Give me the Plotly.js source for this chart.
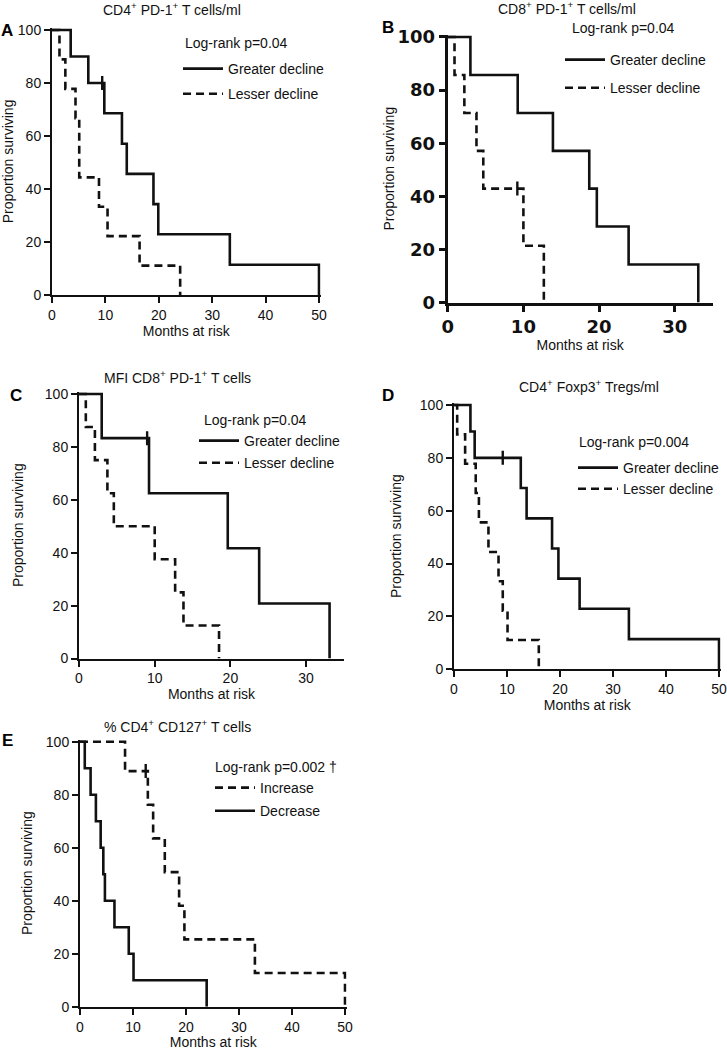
<!DOCTYPE html>
<html>
<head>
<meta charset="utf-8">
<script src="https://cdn.plot.ly/plotly-3.0.1.min.js"></script>
<style>body{margin:0;background:#fff}#chart{width:727px;height:1050px}</style>
</head>
<body>
<div id="chart"></div>
<script>
// Kaplan-Meier steps: time of each drop (months) and % surviving after it
var aGreaterT = [0, 3.5, 6.8, 9.8, 13.1, 14.0, 19.0, 19.9, 33.3, 50.0];
var aGreaterS = [100, 90, 80, 68.6, 57.1, 45.7, 34.3, 22.9, 11.4, 0];
var aLesserT = [0, 1.4, 2.5, 4.4, 5.1, 8.8, 10.4, 16.4, 24.0];
var aLesserS = [100, 88.9, 77.8, 66.7, 44.4, 33.3, 22.2, 11.1, 0];
var aCensorT = [9.4];
var aCensorS = [80];

var bGreaterT = [0, 3.0, 9.25, 13.9, 18.7, 19.7, 23.9, 33.1];
var bGreaterS = [100, 85.7, 71.4, 57.1, 42.9, 28.6, 14.3, 0];
var bLesserT = [0, 0.9, 2.2, 3.8, 4.7, 10.0, 12.7];
var bLesserS = [100, 85.7, 71.4, 57.1, 42.9, 21.4, 0];
var bCensorT = [9.2];
var bCensorS = [42.9];

var cGreaterT = [0, 3.0, 9.25, 19.65, 23.8, 33.1];
var cGreaterS = [100, 83.3, 62.5, 41.7, 20.8, 0];
var cLesserT = [0, 0.9, 2.1, 3.75, 4.6, 10.0, 12.7, 13.8, 18.5];
var cLesserS = [100, 87.5, 75, 62.5, 50, 37.5, 25, 12.5, 0];
var cCensorT = [9.0];
var cCensorS = [83.3];

var dGreaterT = [0, 3.1, 3.9, 12.6, 13.7, 18.5, 19.7, 23.7, 33.0, 50.0];
var dGreaterS = [100, 90, 80, 68.6, 57.1, 45.7, 34.3, 22.9, 11.4, 0];
var dLesserT = [0, 0.6, 2.1, 4.1, 4.7, 6.5, 8.4, 9.2, 10.1, 16.0];
var dLesserS = [100, 88.9, 77.8, 66.7, 55.6, 44.4, 33.3, 22.2, 11.1, 0];
var dCensorT = [9.2];
var dCensorS = [80];

var eIncreaseT = [0, 8.5, 12.8, 13.8, 16.0, 18.7, 19.7, 33.0, 50.0];
var eIncreaseS = [100, 88.9, 76.2, 63.5, 50.8, 38.1, 25.4, 12.7, 0];
var eDecreaseT = [0, 0.9, 2.0, 3.0, 3.9, 4.4, 4.7, 6.5, 9.2, 10.1, 23.9];
var eDecreaseS = [100, 90, 80, 70, 60, 50, 40, 30, 20, 10, 0];
var eCensorT = [12.4];
var eCensorS = [88.9];

var panelTitles = [
  'CD4<sup>+</sup> PD-1<sup>+</sup> T cells/ml',
  'CD8<sup>+</sup> PD-1<sup>+</sup> T cells/ml',
  'MFI CD8<sup>+</sup> PD-1<sup>+</sup> T cells',
  'CD4<sup>+</sup> Foxp3<sup>+</sup> Tregs/ml',
  '% CD4<sup>+</sup> CD127<sup>+</sup> T cells'
];
var pvalues = ['Log-rank p=0.04', 'Log-rank p=0.04', 'Log-rank p=0.04', 'Log-rank p=0.004', 'Log-rank p=0.002 \u2020'];
var letters = ['A', 'B', 'C', 'D', 'E'];

var W = 727, H = 1050;
var ink = '#111';
var font = 'Liberation Sans, Arial, sans-serif';

// pixel geometry of each panel: x of 0, px per month, x max, y of 0, px per %
var geo = [
  {x0: 52, ux: 5.34, xmax: 50.3, y0: 295, uy: 2.65, ystand: 6},
  {x0: 447.7, ux: 7.57, xmax: 35, y0: 302.5, uy: 2.655, ystand: 0},
  {x0: 79, ux: 7.57, xmax: 35, y0: 658.5, uy: 2.645, ystand: 18},
  {x0: 454, ux: 5.3, xmax: 50.3, y0: 669.3, uy: 2.643, ystand: 15},
  {x0: 80, ux: 5.3, xmax: 50.3, y0: 1006.7, uy: 2.65, ystand: 10}
];
var ymax = 100.8;

var titlePos = [[172, 9], [567, 8], [177, 377], [589, 386], [177, 726]];
var pPos = [[183, 43], [570, 28], [202, 420], [577, 442], [213, 767]];
var letterPos = [[7, 30], [388, 28], [16, 395], [388, 395], [7, 740]];
var legendPos = [[178, 53, 4], [560, 44, 7], [194, 425, 1], [573, 452, 0], [210, 772, 2]];

var solid = 'solid', dashed = '8px,5px';

function curve(t, s, n, name, dash) {
  return {
    x: t, y: s, type: 'scatter', mode: 'lines', name: name,
    xaxis: 'x' + (n > 1 ? n : ''), yaxis: 'y' + (n > 1 ? n : ''),
    legend: 'legend' + (n > 1 ? n : ''), legendgroup: 'g' + n + name,
    line: {shape: 'hv', color: ink, width: 2.6, dash: dash},
    hoverinfo: 'skip'
  };
}
function censor(t, s, n) {
  return {
    x: t, y: s, type: 'scatter', mode: 'markers', showlegend: false,
    xaxis: 'x' + (n > 1 ? n : ''), yaxis: 'y' + (n > 1 ? n : ''),
    marker: {symbol: 'line-ns', size: 10, line: {width: 2.4, color: ink}},
    hoverinfo: 'skip'
  };
}

var data = [
  curve(aGreaterT, aGreaterS, 1, 'Greater decline', solid),
  curve(aLesserT, aLesserS, 1, 'Lesser decline', dashed),
  censor(aCensorT, aCensorS, 1),
  curve(bGreaterT, bGreaterS, 2, 'Greater decline', solid),
  curve(bLesserT, bLesserS, 2, 'Lesser decline', dashed),
  censor(bCensorT, bCensorS, 2),
  curve(cGreaterT, cGreaterS, 3, 'Greater decline', solid),
  curve(cLesserT, cLesserS, 3, 'Lesser decline', dashed),
  censor(cCensorT, cCensorS, 3),
  curve(dGreaterT, dGreaterS, 4, 'Greater decline', solid),
  curve(dLesserT, dLesserS, 4, 'Lesser decline', dashed),
  censor(dCensorT, dCensorS, 4),
  curve(eIncreaseT, eIncreaseS, 5, 'Increase', dashed),
  curve(eDecreaseT, eDecreaseS, 5, 'Decrease', solid),
  censor(eCensorT, eCensorS, 5)
];

var layout = {
  width: W, height: H, autosize: false,
  margin: {l: 0, r: 0, t: 0, b: 0, pad: 0},
  paper_bgcolor: '#fff', plot_bgcolor: '#fff',
  font: {family: font, size: 14, color: ink},
  annotations: []
};

geo.forEach(function (g, i) {
  var n = i + 1, k = n > 1 ? n : '';
  var bold = n === 2;
  var lw = bold ? 3 : 2;
  var tf = bold ? {family: 'DejaVu Sans, sans-serif', size: 18, color: ink, weight: 'bold'} : {size: 14, color: ink};
  var common = {
    showgrid: false, zeroline: false, showline: true, linecolor: ink, linewidth: lw,
    ticks: 'outside', ticklen: 6, tickwidth: lw, tickcolor: ink, tickfont: tf, fixedrange: true
  };
  layout['xaxis' + k] = Object.assign({}, common, {
    domain: [g.x0 / W, (g.x0 + g.ux * g.xmax) / W],
    range: [0, g.xmax], dtick: 10, tick0: 0, anchor: 'y' + k,
    title: {text: 'Months at risk', font: {size: 14}, standoff: 4}
  });
  layout['yaxis' + k] = Object.assign({}, common, {
    domain: [1 - g.y0 / H, 1 - (g.y0 - g.uy * ymax) / H],
    range: [0, ymax], dtick: 20, tick0: 0, anchor: 'x' + k,
    title: {text: 'Proportion surviving', font: {size: 14}, standoff: g.ystand}
  });
  var lp = legendPos[i];
  layout['legend' + k] = {
    x: lp[0] / W, y: 1 - lp[1] / H, xanchor: 'left', yanchor: 'top',
    bgcolor: 'rgba(0,0,0,0)', font: {size: 14, color: ink},
    itemwidth: 40, traceorder: 'grouped', tracegroupgap: lp[2]
  };
  layout.annotations.push({
    text: panelTitles[i], xref: 'paper', yref: 'paper', showarrow: false,
    x: titlePos[i][0] / W, y: 1 - titlePos[i][1] / H, xanchor: 'center', yanchor: 'middle',
    font: {size: 14, color: ink}
  });
  layout.annotations.push({
    text: pvalues[i], xref: 'paper', yref: 'paper', showarrow: false,
    x: pPos[i][0] / W, y: 1 - pPos[i][1] / H, xanchor: 'left', yanchor: 'middle',
    font: {size: 14, color: ink}
  });
  layout.annotations.push({
    text: '<b>' + letters[i] + '</b>', xref: 'paper', yref: 'paper', showarrow: false,
    x: letterPos[i][0] / W, y: 1 - letterPos[i][1] / H, xanchor: 'center', yanchor: 'middle',
    font: {size: 17, color: '#000'}
  });
});

Plotly.newPlot('chart', data, layout, {staticPlot: true, displayModeBar: false});
</script>
</body>
</html>
